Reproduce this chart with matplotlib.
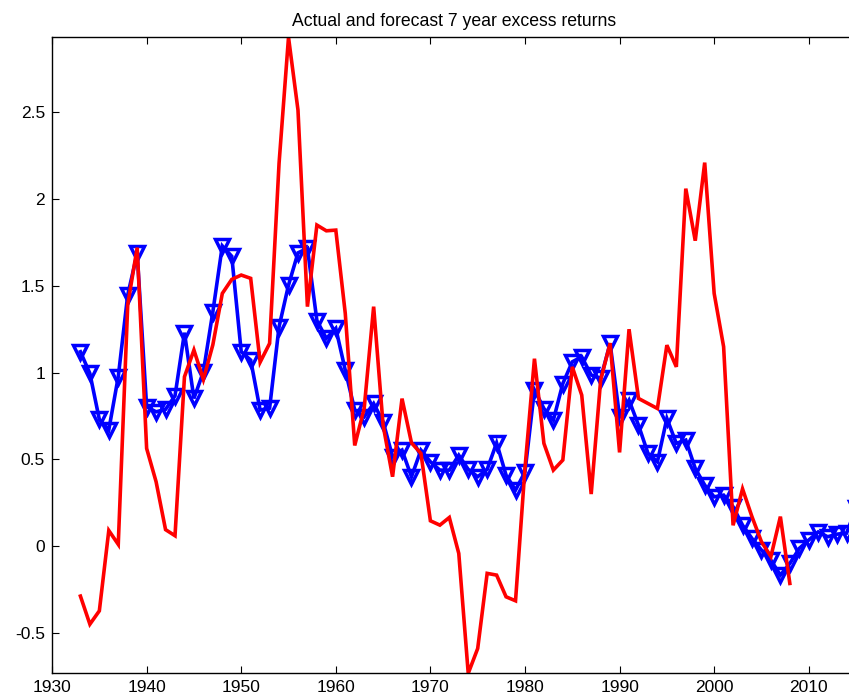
import numpy as np
import matplotlib
matplotlib.use("Agg")
import matplotlib.pyplot as plt
from matplotlib.ticker import FormatStrFormatter

plt.rcParams['font.family'] = ['Liberation Sans', 'DejaVu Sans']

# forecast excess returns, 1933-2015
forecast_years = np.arange(1933, 2016)
forecast = [1.12, 0.995, 0.73, 0.67, 0.976, 1.447, 1.687, 0.803, 0.774, 0.788,
            0.866, 1.23, 0.851, 1.005, 1.35, 1.73, 1.67, 1.12, 1.072, 0.784,
            0.795, 1.264, 1.504, 1.69, 1.716, 1.30, 1.197, 1.255, 1.014, 0.784,
            0.745, 0.822, 0.717, 0.515, 0.553, 0.40, 0.553, 0.486, 0.438, 0.438,
            0.524, 0.442, 0.40, 0.442, 0.595, 0.409, 0.323, 0.428, 0.90, 0.793,
            0.726, 0.937, 1.062, 1.091, 0.986, 0.966, 1.168, 0.745, 0.841, 0.697,
            0.535, 0.486, 0.736, 0.592, 0.611, 0.448, 0.352, 0.284, 0.294, 0.227,
            0.121, 0.044, -0.023, -0.081, -0.167, -0.10, -0.013, 0.035, 0.082, 0.054,
            0.069, 0.075, 0.22]

# actual 7 year excess returns, 1933-2008
actual_years = np.arange(1933, 2009)
actual = [-0.288, -0.45, -0.373, 0.09, 0.01, 1.39, 1.72, 0.563, 0.371, 0.095,
          0.06, 0.976, 1.13, 0.96, 1.16, 1.456, 1.537, 1.562, 1.543, 1.06,
          1.168, 2.206, 2.932, 2.513, 1.38, 1.85, 1.817, 1.821, 1.341, 0.58,
          0.794, 1.38, 0.697, 0.40, 0.85, 0.595, 0.534, 0.146, 0.121, 0.165,
          -0.042, -0.733, -0.59, -0.157, -0.167, -0.292, -0.315, 0.45, 1.08, 0.592,
          0.438, 0.496, 1.033, 0.87, 0.30, 0.957, 1.17, 0.54, 1.25, 0.851,
          0.822, 0.793, 1.158, 1.033, 2.06, 1.76, 2.21, 1.456, 1.149, 0.12,
          0.33, 0.169, 0.025, -0.06, 0.17, -0.215]

fig = plt.figure(figsize=(8.49, 7.0), dpi=100)
ax = fig.add_axes([0.0613, 0.0381, 0.947, 0.9086])

ax.plot(forecast_years, forecast, color='blue', lw=2.6, marker='v', ms=10,
        mfc='none', mec='blue', mew=2.5, solid_joinstyle='miter', clip_on=False)
ax.plot(actual_years, actual, color='red', lw=2.6, solid_joinstyle='miter')

ax.set_xlim(1930, 2015)
ax.set_ylim(min(actual), max(actual))
ax.set_xticks(np.arange(1930, 2011, 10))
ax.set_yticks(np.arange(-0.5, 2.51, 0.5))
ax.yaxis.set_major_formatter(FormatStrFormatter('%g'))
ax.tick_params(direction='in', length=5, width=0.8, top=True, right=True,
               labelsize=12.5, pad=5)
for s in ax.spines.values():
    s.set_linewidth(1.0)

ax.set_title('Actual and forecast 7 year excess returns', fontsize=12.7, pad=8)

fig.savefig('out.png', dpi=100)
